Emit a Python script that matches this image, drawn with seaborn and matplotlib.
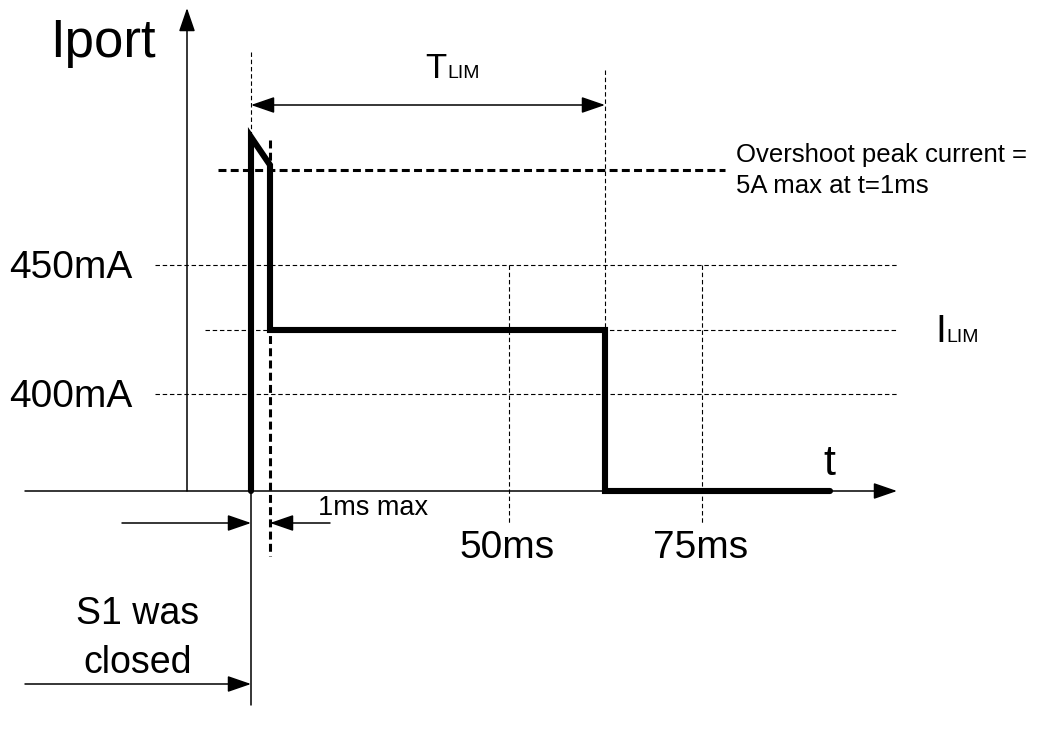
import numpy as np
import pandas as pd
import matplotlib
matplotlib.use("Agg")
import matplotlib.pyplot as plt
import seaborn as sns

# schematic coordinates (pixel-like, y grows downward)
wave_t = [251, 251, 270, 270, 605, 605, 830]
wave_i = [491, 137, 165, 330, 330, 491, 491]

level_labels = ["450mA", "400mA"]
level_y = [265, 394]
ilim_y = 330
time_labels = ["50ms", "75ms"]
time_x = [509, 702]
tlim_x = 605
peak_y = 170
t0_x = 251
t1_x = 270

sns.set_style("white")
plt.rcParams["font.family"] = ["Liberation Sans", "DejaVu Sans"]
plt.rcParams["text.color"] = "black"

fig = plt.figure(figsize=(10.53, 7.29), dpi=100)
ax = fig.add_axes([0, 0, 1, 1])
ax.set_xlim(0, 1053)
ax.set_ylim(729, 0)
ax.axis("off")

dot = dict(color="k", lw=0.8, ls=(0, (4, 2.5)))
dash = dict(color="k", lw=2.2, ls=(0, (2.6, 1.4)))
thin = dict(color="k", lw=1.1)

def arrow(x0, y0, x1, y1, style="-|>"):
    ax.annotate("", xy=(x1, y1), xytext=(x0, y0),
                arrowprops=dict(arrowstyle=style + ",head_length=1.45,head_width=0.5",
                                lw=1.1, color="k", shrinkA=0, shrinkB=0))

# axes of the diagram
arrow(187, 491, 187, 8)
arrow(25, 491, 897, 491)

# guide lines
for y in level_y:
    ax.plot([155, 897], [y, y], **dot)
ax.plot([205, 897], [ilim_y, ilim_y], **dot)
for x in time_x:
    ax.plot([x, x], [level_y[0], 523], **dot)
ax.plot([tlim_x, tlim_x], [70, 491], **dot)
ax.plot([t0_x, t0_x], [52, 137], **dot)
ax.plot([t0_x, t0_x], [491, 705], **thin)
ax.plot([218, 725], [peak_y, peak_y], **dash)
ax.plot([t1_x, t1_x], [140, 556], **dash)

# waveform
df = pd.DataFrame({"t": wave_t, "i": wave_i})
sns.lineplot(data=df, x="t", y="i", sort=False, estimator=None, ax=ax,
             color="k", lw=4.4, solid_capstyle="round", solid_joinstyle="miter")

# dimension arrows
arrow(t0_x, 105, tlim_x, 105, style="<|-|>")
arrow(122, 523, t0_x, 523)
arrow(330, 523, t1_x, 523)
arrow(25, 684, t0_x, 684)

# text
ax.text(50, 57, "Iport", fontsize=38, va="baseline")
for lab, y in zip(level_labels, level_y):
    ax.text(9, y + 13, lab, fontsize=28, va="baseline")
for lab, x in zip(time_labels, time_x):
    ax.text(x - 50 if lab == "50ms" else x - 49, 558, lab, fontsize=28, va="baseline")
ax.text(823, 475, "t", fontsize=31, va="baseline")
ax.text(318, 515, "1ms max", fontsize=19.5, va="baseline")
ax.text(138, 624, "S1 was", fontsize=27, va="baseline", ha="center")
ax.text(138, 673, "closed", fontsize=27, va="baseline", ha="center")
ax.text(736, 162, "Overshoot peak current =", fontsize=18.5, va="baseline")
ax.text(736, 193, "5A max at t=1ms", fontsize=18.5, va="baseline")
ax.text(425, 78, "T", fontsize=25, va="baseline")
ax.text(447, 78, "LIM", fontsize=14, va="baseline")
ax.text(935, 342, "I", fontsize=28, va="baseline")
ax.text(946, 342, "LIM", fontsize=14, va="baseline")

fig.savefig("out.png", dpi=100)
